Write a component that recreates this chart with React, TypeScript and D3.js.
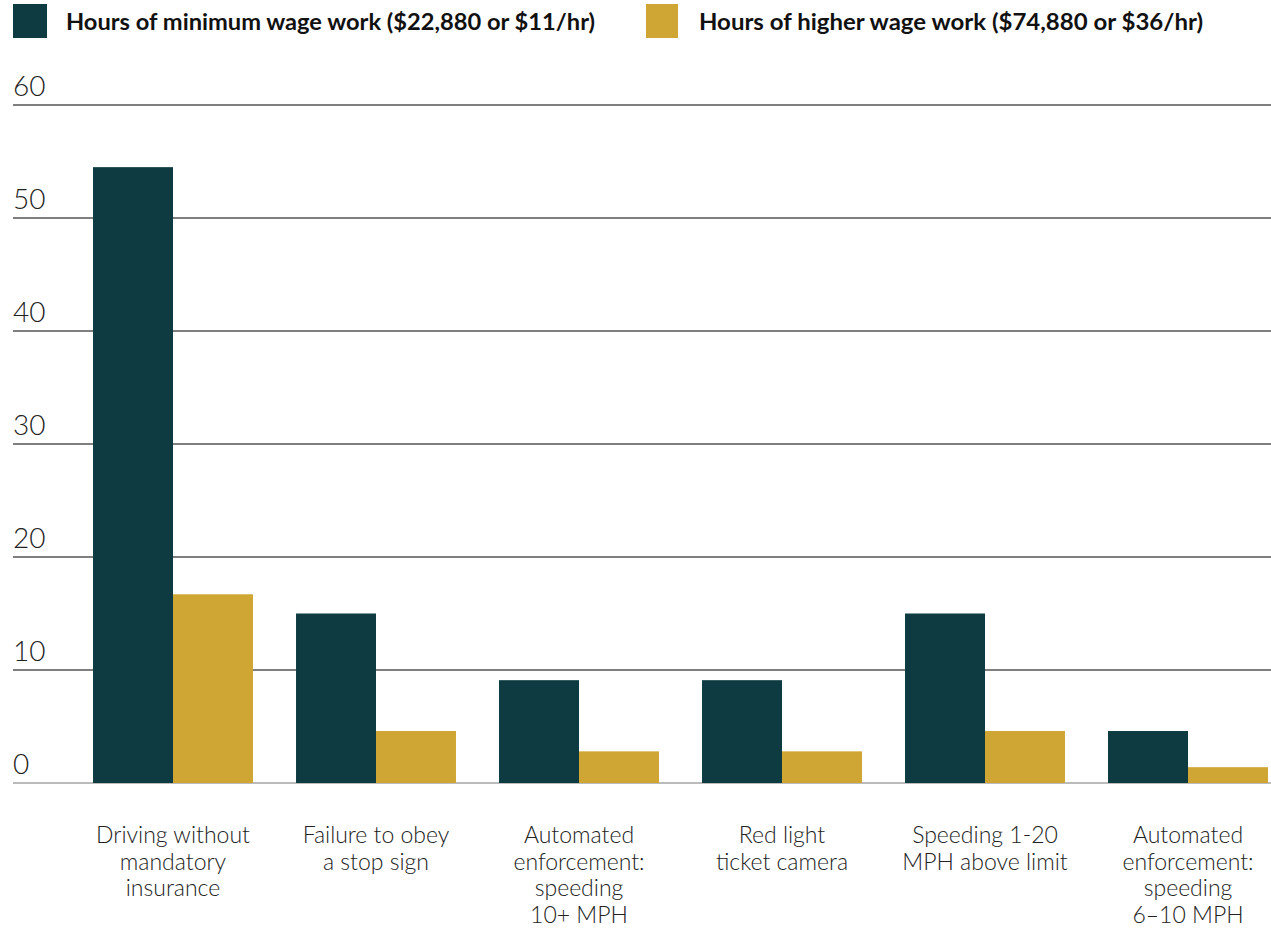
import React from "react";
import * as d3 from "d3";

const categories: string[][] = [
  ["Driving without", "mandatory", "insurance"],
  ["Failure to obey", "a stop sign"],
  ["Automated", "enforcement:", "speeding", "10+ MPH"],
  ["Red light", "ticket camera"],
  ["Speeding 1-20", "MPH above limit"],
  ["Automated", "enforcement:", "speeding", "6–10 MPH"],
];
const minWageHours = [54.5, 15.0, 9.1, 9.1, 15.0, 4.6];
const higherWageHours = [16.7, 4.6, 2.8, 2.8, 4.6, 1.4];
const seriesNames = [
  "Hours of minimum wage work ($22,880 or $11/hr)",
  "Hours of higher wage work ($74,880 or $36/hr)",
];
const yTicks = [0, 10, 20, 30, 40, 50, 60];

const W = 1271;
const H = 933;
const COLORS = ["#0d3b41", "#cfa633"];
const FONT = "Lato, 'Open Sans', sans-serif";

export default function App() {
  const keys = categories.map((_, i) => String(i));
  const x = d3
    .scaleBand<string>()
    .domain(keys)
    .range([71.5, 71.5 + 6 * 203])
    .paddingInner(0.212)
    .paddingOuter(0.106);
  const x1 = d3.scaleBand<number>().domain([0, 1]).range([0, x.bandwidth()]);
  const y = d3.scaleLinear().domain([0, 60]).range([783, 105]);
  const series = [minWageHours, higherWageHours];

  return (
    <svg
      width={W}
      height={H}
      style={{ position: "absolute", left: 0, top: 0, background: "#fff" }}
      fontFamily={FONT}
    >
      {/* legend */}
      <rect x={13} y={4} width={34} height={34} fill={COLORS[0]} />
      <text x={66} y={30} fontSize={23.5} fontWeight={700} fill="#111" textLength={529} lengthAdjust="spacingAndGlyphs">
        {seriesNames[0]}
      </text>
      <rect x={646} y={4} width={32} height={34} fill={COLORS[1]} />
      <text x={699} y={30} fontSize={23.5} fontWeight={700} fill="#111" textLength={504} lengthAdjust="spacingAndGlyphs">
        {seriesNames[1]}
      </text>

      {/* gridlines */}
      {yTicks.map((t) => (
        <g key={t}>
          <line
            x1={13}
            x2={W}
            y1={y(t)}
            y2={y(t)}
            stroke={t === 0 ? "#bbbbbb" : "#555555"}
            strokeWidth={t === 0 ? 2 : 1.3}
          />
          <text
            x={13}
            y={y(t) - 9}
            fontSize={28}
            fontWeight={300}
            fill="#222"
          >
            {t}
          </text>
        </g>
      ))}

      {/* bars */}
      {keys.map((k, i) => (
        <g key={k} transform={`translate(${x(k)},0)`}>
          {series.map((s, j) => (
            <rect
              key={j}
              x={x1(j)}
              y={y(s[i])}
              width={x1.bandwidth()}
              height={y(0) - y(s[i])}
              fill={COLORS[j]}
            />
          ))}
        </g>
      ))}

      {/* category labels */}
      {keys.map((k, i) => (
        <text
          key={k}
          x={(x(k) as number) + x.bandwidth() / 2}
          y={843}
          textAnchor="middle"
          fontSize={23}
          fontWeight={300}
          fill="#222"
        >
          {categories[i].map((line, li) => (
            <tspan key={li} x={(x(k) as number) + x.bandwidth() / 2} dy={li === 0 ? 0 : 26.5}>
              {line}
            </tspan>
          ))}
        </text>
      ))}
    </svg>
  );
}
